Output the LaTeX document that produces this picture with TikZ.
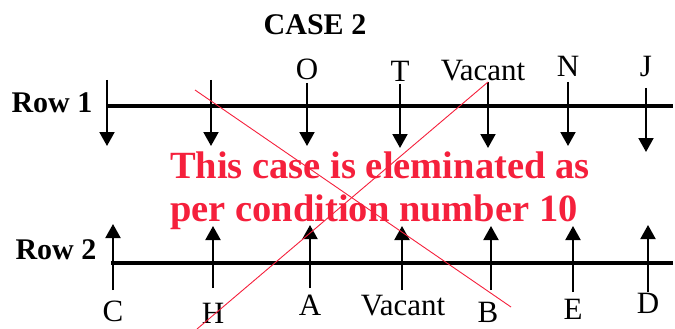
\documentclass[tikz,border=0pt]{standalone}
\usepackage{fontspec}
\setmainfont{Liberation Serif}
\usetikzlibrary{arrows.meta}
\definecolor{casered}{HTML}{F5203C}
\tikzset{
  seatline/.style={line width=3.4pt},
  seatarrow/.style={line width=2pt, -{Triangle[width=15pt,length=14pt]}},
  seatlabel/.style={font=\fontsize{31}{34}\selectfont, inner sep=0pt},
  rowlabel/.style={font=\fontsize{30}{34}\selectfont\bfseries, inner sep=0pt},
  crossline/.style={draw=casered, line width=0.9pt}
}
\begin{document}
\begin{tikzpicture}[x=1pt, y=-1pt]
    \useasboundingbox (0,0) rectangle (675,329);
    % title
    \node[rowlabel] (title) at (315,25) {CASE 2};
    % ROW 1
    \node[rowlabel] (row1) at (52,103) {Row 1};
    \coordinate (r1l) at (106,106);
    \coordinate (r1r) at (673,106);
    \draw[seatline] (r1l) -- (r1r);
    \foreach \x/\ya/\yb [count=\i] in {107/80/146, 211/80/146, 307/83/146,
        400/84/148, 488/82/148, 568/82/146, 646/88/152} {
      \coordinate (t\i) at (\x,\ya);
      \coordinate (b\i) at (\x,\yb);
      \draw[seatarrow] (t\i) -- (b\i);
    }
    \node[seatlabel] (o) at (307,69) {O};
    \node[seatlabel] (t) at (400,71) {T};
    \node[seatlabel] (vac1) at (483,71) {Vacant};
    \node[seatlabel] (n) at (568,66) {N};
    \node[seatlabel] (j) at (646,67) {J};
    % ROW 2
    \node[rowlabel] (row2) at (56,250) {Row 2};
    \coordinate (r2l) at (111,263);
    \coordinate (r2r) at (673,263);
    \draw[seatline] (r2l) -- (r2r);
    \foreach \x/\ya/\yb [count=\i] in {113/290/224, 213/288/226, 310/288/225,
        402/290/226, 491/290/226, 573/292/226, 648/292/225} {
      \coordinate (u\i) at (\x,\ya);
      \coordinate (v\i) at (\x,\yb);
      \draw[seatarrow] (u\i) -- (v\i);
    }
    \node[seatlabel] (c) at (113,311) {C};
    \node[seatlabel] (h) at (213,313) {H};
    \node[seatlabel] (a) at (310,305) {A};
    \node[seatlabel] (vac2) at (403,306) {Vacant};
    \node[seatlabel] (b) at (488,312) {B};
    \node[seatlabel] (e) at (573,309) {E};
    \node[seatlabel] (d) at (648,303) {D};
    % eliminated
    \node[text=casered, font=\fontsize{38.5}{43}\selectfont\bfseries, align=left,
          anchor=north west, inner sep=0pt] (note) at (170,152)
      {This case is eleminated as\\per condition number 10};
    \coordinate (x1a) at (195,90);
    \coordinate (x1b) at (511,307);
    \coordinate (x2a) at (488,82);
    \coordinate (x2b) at (197,329);
    \draw[crossline] (x1a) -- (x1b);
    \draw[crossline] (x2a) -- (x2b);
  \end{tikzpicture}
\end{document}
